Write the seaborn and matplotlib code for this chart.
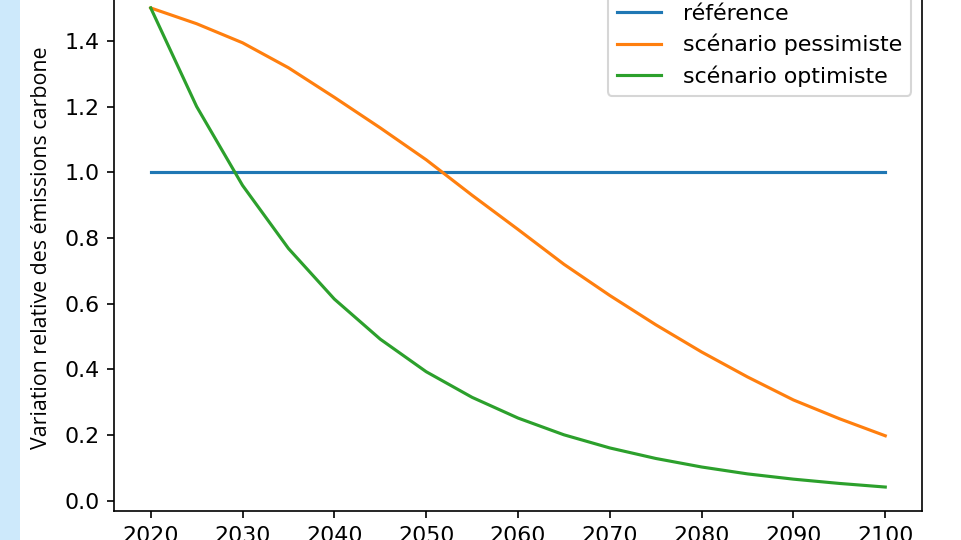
import numpy as np
import pandas as pd
import matplotlib
matplotlib.use('Agg')
import matplotlib.pyplot as plt
import seaborn as sns
from matplotlib.patches import Rectangle

# data
years = list(range(2020, 2101, 5))
reference = [1.0] * 17
pessimiste = [1.5, 1.452, 1.394, 1.318, 1.228, 1.135, 1.038, 0.93, 0.826, 0.72, 0.625, 0.536, 0.453, 0.377, 0.307, 0.25, 0.198]
optimiste = [1.5, 1.2, 0.96, 0.768, 0.614, 0.492, 0.393, 0.315, 0.252, 0.201, 0.161, 0.129, 0.103, 0.082, 0.066, 0.053, 0.042]
labels = ['référence', 'scénario pessimiste', 'scénario optimiste']

df = pd.DataFrame({
    'annee': years * 3,
    'valeur': reference + pessimiste + optimiste,
    'serie': [labels[0]] * 17 + [labels[1]] * 17 + [labels[2]] * 17,
})

plt.rcParams['font.size'] = 10.6

fig = plt.figure(figsize=(961 / 150, 540 / 150), dpi=150)
fig.patches.append(Rectangle((0, 0), 20 / 961, 1, transform=fig.transFigure,
                             facecolor='#cde9fb', edgecolor='none', zorder=-1))
ax = fig.add_axes([114 / 961, 29 / 540, 808 / 961, 527 / 540])

sns.lineplot(data=df, x='annee', y='valeur', hue='serie', hue_order=labels,
             palette=['#1f77b4', '#ff7f0e', '#2ca02c'], linewidth=1.5, ax=ax)

handles, labs = ax.get_legend_handles_labels()
ax.legend(handles, labs, loc='upper right', labelspacing=0.45, handletextpad=1.0)
ax.set_xlabel('')
ax.set_ylabel('Variation relative des émissions carbone',
              family=['Open Sans', 'DejaVu Sans'], fontsize=10.25, labelpad=6)
ax.set_yticks(np.arange(0, 1.41, 0.2))

fig.savefig('out.png', dpi=150)
